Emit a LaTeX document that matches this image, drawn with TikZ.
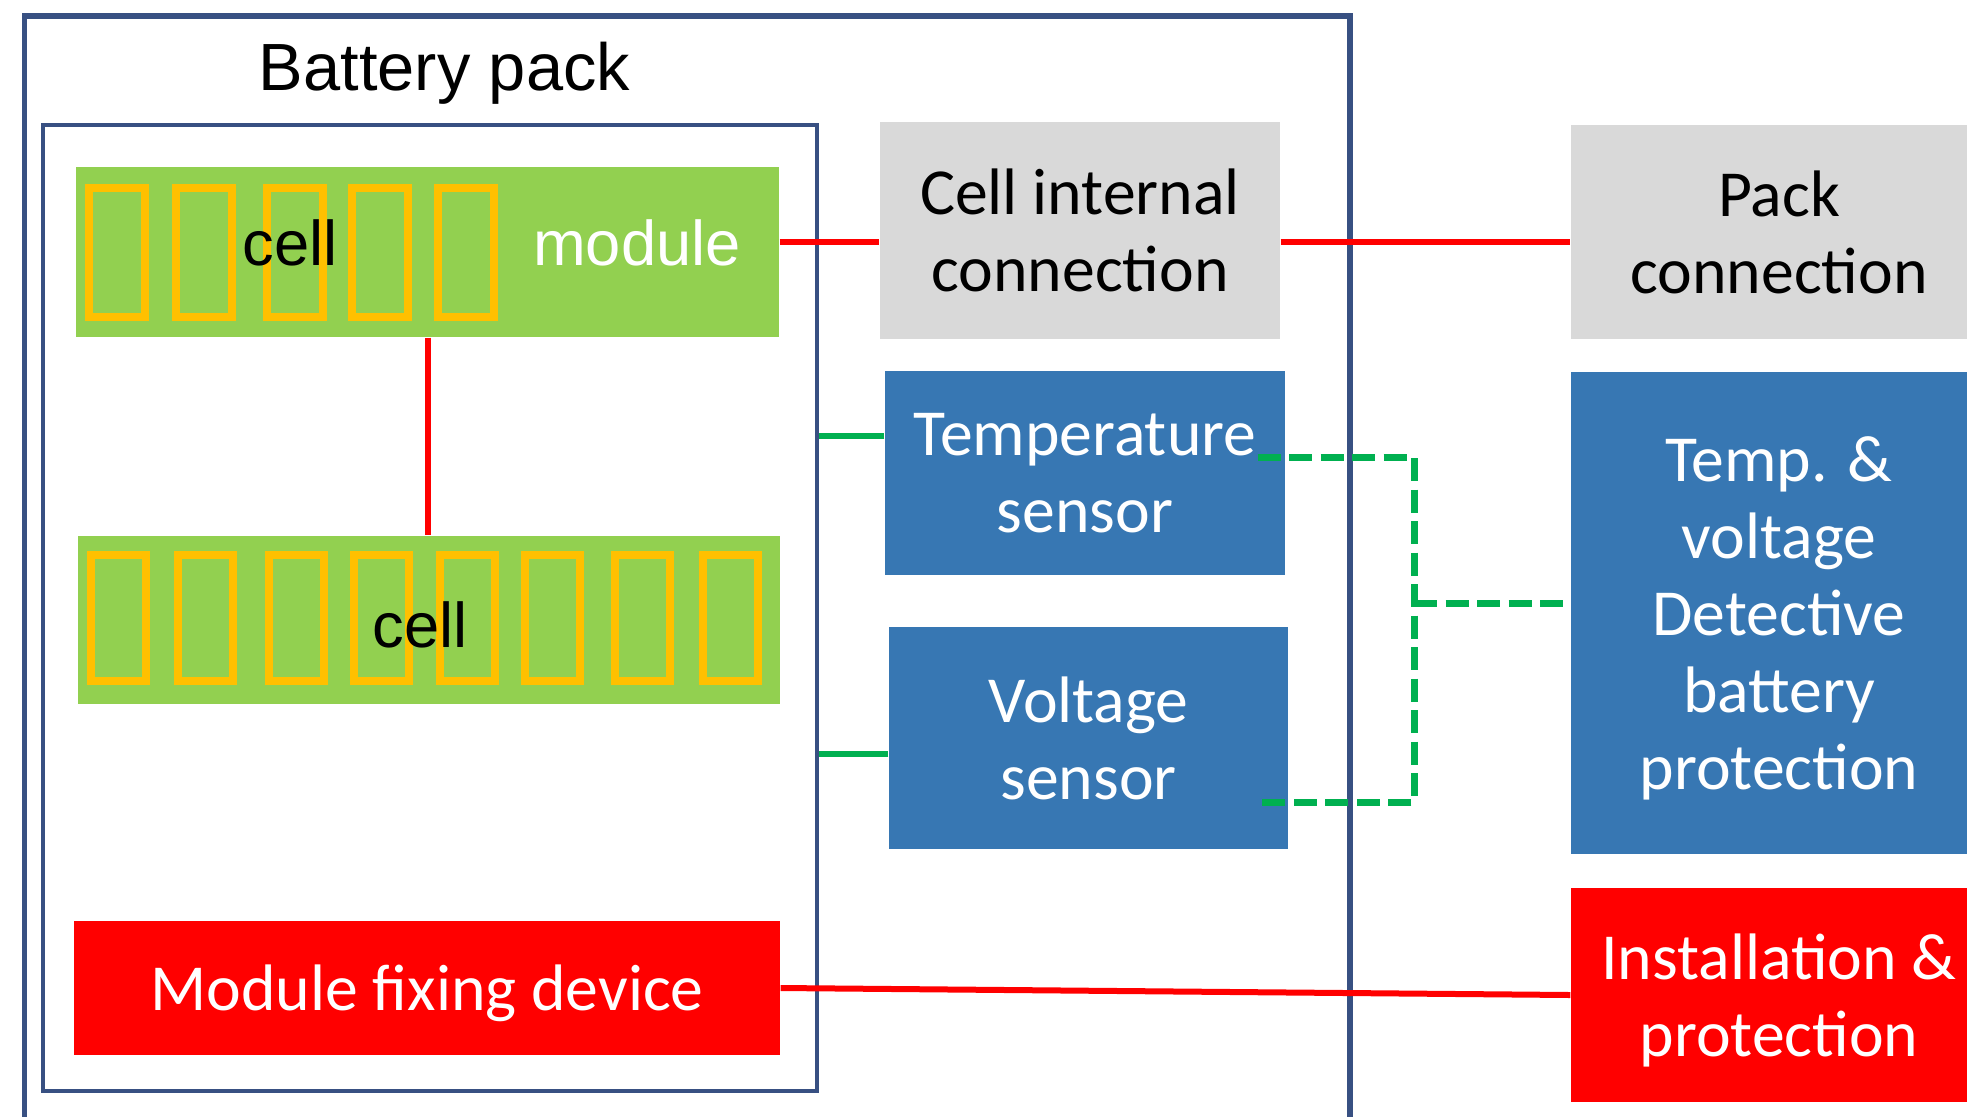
\documentclass[tikz,border=0pt]{standalone}
\usepackage{fontspec}
\setmainfont{Carlito}
\newfontfamily\arialfont{Liberation Sans}

\definecolor{framecol}{RGB}{56,80,130}
\definecolor{modgreen}{RGB}{146,208,80}
\definecolor{cellorange}{RGB}{255,192,0}
\definecolor{boxgray}{RGB}{217,217,217}
\definecolor{boxblue}{RGB}{55,119,179}
\definecolor{wiregreen}{RGB}{0,176,80}
\definecolor{boxred}{RGB}{255,0,0}

\begin{document}
\begin{tikzpicture}[
    textbox/.style={rectangle, inner sep=0pt, align=center, text depth=0pt, font=\fontsize{18.7}{21.9}\selectfont},
    graybox/.style={textbox, fill=boxgray, text=black},
    bluebox/.style={textbox, fill=boxblue, text=white},
    redbox/.style={textbox, fill=boxred, text=white},
    modulebox/.style={rectangle, inner sep=0pt, fill=modgreen},
    arialtext/.style={inner sep=0pt, anchor=base, font=\arialfont\fontsize{18}{21}\selectfont},
    powerwire/.style={boxred, line width=0.06cm},
    sensewire/.style={wiregreen, line width=0.055cm},
    signalwire/.style={wiregreen, line width=0.07cm, dash pattern=on 0.23cm off 0.085cm}
]
    \useasboundingbox (0,0) rectangle (19.67,11.16);
    \clip (0,0) rectangle (19.67,11.16);

    % Battery pack frame
    \draw[framecol, line width=0.06cm] (0.245,11.00) rectangle (13.495,-0.30);
    \node[arialtext, font=\arialfont\fontsize{19}{22}\selectfont] (packtitle) at (4.445,10.253) {Battery pack};
    \node[rectangle, draw=framecol, line width=0.04cm, inner sep=0pt,
          minimum width=7.74cm, minimum height=9.66cm] (innerbox) at (4.30,5.08) {};

    % Modules
    \node[modulebox, minimum width=7.03cm, minimum height=1.70cm] (topmod) at (4.275,8.64) {};
    \node[modulebox, minimum width=7.02cm, minimum height=1.68cm] (botmod) at (4.29,4.96) {};

    % Cells
    \foreach \x in {1.17, 2.035, 2.95, 3.80, 4.66} {
        \draw[cellorange, line width=0.08cm] (\x-0.28,8.635-0.645) rectangle (\x+0.28,8.635+0.645);
    }
    \foreach \x in {1.185, 2.05, 2.965, 3.815, 4.67, 5.525, 6.42, 7.305} {
        \draw[cellorange, line width=0.08cm] (\x-0.275,4.98-0.63) rectangle (\x+0.275,4.98+0.63);
    }
    \node[arialtext] (topcell) at (2.90,8.51) {cell};
    \node[arialtext, text=white] (modlabel) at (6.37,8.51) {module};
    \node[arialtext] (botcell) at (4.20,4.69) {cell};

    \node[redbox, minimum width=7.06cm, minimum height=1.34cm] (fixdev) at (4.27,1.28) {Module fixing device};

    % Connection and sensor boxes
    \node[graybox, minimum width=4.00cm, minimum height=2.17cm] (cellconn) at (10.80,8.855) {Cell internal\\connection};
    \node[bluebox, minimum width=4.00cm, minimum height=2.04cm] (tempsens) at (10.85,6.43) {Temperature\\sensor};
    \node[bluebox, minimum width=3.99cm, minimum height=2.22cm] (voltsens) at (10.885,3.78) {Voltage\\sensor};

    % Pack level boxes
    \node[graybox, minimum width=4.16cm, minimum height=2.14cm] (packconn) at (17.79,8.84) {Pack\\connection};
    \node[bluebox, minimum width=4.16cm, minimum height=4.82cm] (tvbox) at (17.79,5.03) {Temp. \&\\voltage\\Detective\\battery\\protection};
    \node[redbox, minimum width=4.16cm, minimum height=2.14cm] (install) at (17.79,1.21) {Installation \&\\protection};

    % Power links
    \draw[powerwire] (topmod.south) -- (topmod.south |- botmod.north);
    \draw[powerwire] ([yshift=1mm]topmod.east) coordinate (pw) -- (pw -| cellconn.west);
    \draw[powerwire] (pw -| cellconn.east) -- (pw -| packconn.west);
    \draw[powerwire] (fixdev.east) -- (install.west);

    % Sensor links
    \draw[sensewire] ([yshift=3.7mm]tempsens.west) -- ([yshift=3.7mm]tempsens.west -| innerbox.east);
    \draw[sensewire] ([yshift=-1.6mm]voltsens.west) -- ([yshift=-1.6mm]voltsens.west -| innerbox.east);

    % Signal bus
    \coordinate (tap) at (14.14,5.13);
    \draw[signalwire] ([xshift=-2.8mm,yshift=1.6mm]tempsens.east) -| (tap) |- ([xshift=-3.1mm,yshift=-6.4mm]voltsens.east);
    \draw[signalwire] (tap) -- (tap -| tvbox.west);
\end{tikzpicture}
\end{document}
